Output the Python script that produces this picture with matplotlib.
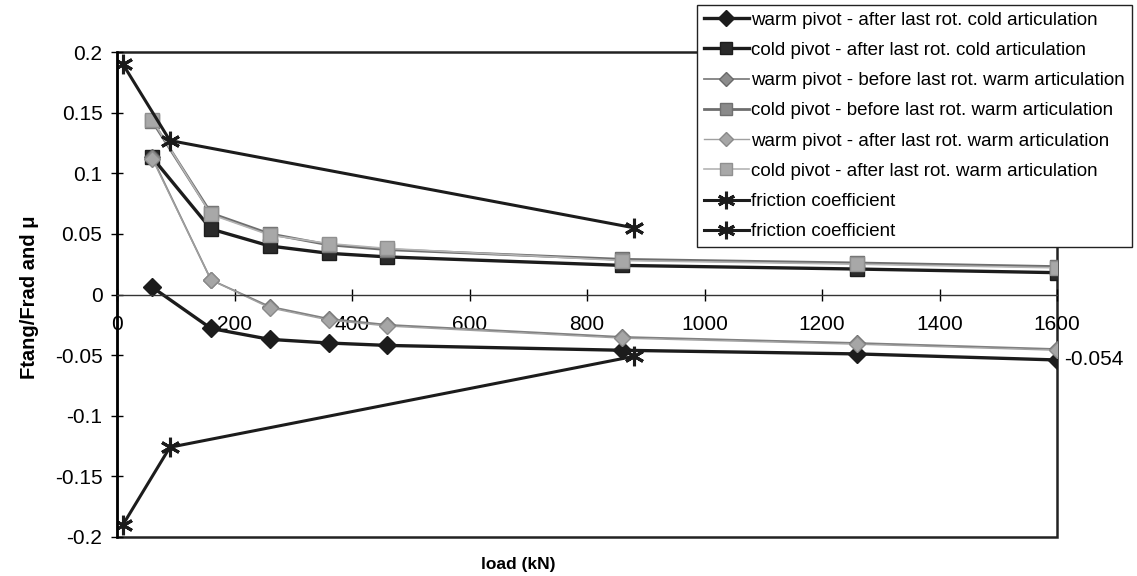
import numpy as np
import matplotlib.pyplot as plt
from matplotlib.patches import Rectangle

plt.rcParams['font.family'] = ['Liberation Sans', 'DejaVu Sans']

# load (kN)
load = [60, 160, 260, 360, 460, 860, 1260, 1600]
load_mu = [10, 90, 880]

warm_after_cold = [0.006, -0.028, -0.037, -0.040, -0.042, -0.046, -0.049, -0.054]
cold_after_cold = [0.113, 0.054, 0.040, 0.034, 0.031, 0.024, 0.021, 0.018]
warm_before_warm = [0.113, 0.012, -0.010, -0.020, -0.025, -0.035, -0.040, -0.045]
cold_before_warm = [0.143, 0.067, 0.050, 0.041, 0.037, 0.029, 0.026, 0.023]
warm_after_warm = [0.112, 0.012, -0.011, -0.021, -0.026, -0.036, -0.041, -0.046]
cold_after_warm = [0.144, 0.066, 0.049, 0.042, 0.038, 0.028, 0.025, 0.022]
mu_pos = [0.19, 0.127, 0.055]
mu_neg = [-0.19, -0.126, -0.051]

labels = [
    "warm pivot - after last rot. cold articulation",
    "cold pivot - after last rot. cold articulation",
    "warm pivot - before last rot. warm articulation",
    "cold pivot - before last rot. warm articulation",
    "warm pivot - after last rot. warm articulation",
    "cold pivot - after last rot. warm articulation",
    "friction coefficient",
    "friction coefficient",
]

fig = plt.figure(figsize=(11.37, 5.76), dpi=100)
ax = fig.add_axes([117 / 1137, 1 - 537 / 576, (1057 - 117) / 1137, (537 - 52) / 576])

blk = '#1c1c1c'
star = (6, 2, 0)
h = []
h += ax.plot(load, warm_after_cold, color=blk, lw=2.4, marker='D', ms=9, mfc=blk, mec=blk)
h += ax.plot(load, cold_after_cold, color=blk, lw=2.4, marker='s', ms=10, mfc='#2a2a2a', mec=blk)
h += ax.plot(load, warm_before_warm, color='#808080', lw=1.3, marker='D', ms=8, mfc='#8c8c8c', mec='#6a6a6a')
h += ax.plot(load, cold_before_warm, color='#6e6e6e', lw=2.0, marker='s', ms=10, mfc='#8a8a8a', mec='#707070')
h += ax.plot(load, warm_after_warm, color='#a0a0a0', lw=1.0, marker='D', ms=8, mfc='#a6a6a6', mec='#8a8a8a')
h += ax.plot(load, cold_after_warm, color='#b4b4b4', lw=1.2, marker='s', ms=10, mfc='#a8a8a8', mec='#909090')
h += ax.plot(load_mu, mu_pos, color=blk, lw=2.2, marker=star, ms=14, mew=2.2, mec=blk)
h += ax.plot(load_mu, mu_neg, color=blk, lw=2.2, marker=star, ms=14, mew=2.2, mec=blk)

ax.text(1612, warm_after_cold[-1], "-0.054", fontsize=15, va='center', ha='left')

ax.set_xlim(0, 1600)
ax.set_ylim(-0.2, 0.2)
ax.set_xticks(np.arange(0, 1601, 200))
ax.set_yticks([-0.2, -0.15, -0.1, -0.05, 0, 0.05, 0.1, 0.15, 0.2])
ax.set_yticklabels(['-0.2', '-0.15', '-0.1', '-0.05', '0', '0.05', '0.1', '0.15', '0.2'])

ax.spines['bottom'].set_position(('data', 0))
ax.spines['bottom'].set_linewidth(1.0)
ax.spines['bottom'].set_color('#333333')
ax.spines['left'].set_linewidth(1.8)
ax.spines['top'].set_visible(False)
ax.spines['right'].set_visible(False)
ax.add_patch(Rectangle((0, 0), 1, 1, transform=ax.transAxes, fill=False,
                       lw=1.8, ec='#222222', clip_on=False, zorder=0.5))

ax.tick_params(axis='x', direction='inout', length=9, width=1, pad=10, labelsize=15)
ax.tick_params(axis='y', direction='inout', length=9, width=1, pad=6, labelsize=15)

fig.text(30 / 1137, 1 - 297 / 576, "Ftang/Frad and \u03bc", rotation=90, ha='center',
         va='center', fontsize=14.5, fontweight='bold')
fig.text(518 / 1137, 1 - 565 / 576, "load (kN)", ha='center', va='center',
         fontsize=12.5, fontweight='bold')

leg = fig.legend(h, labels, loc='upper left', bbox_to_anchor=(697 / 1137, 1 - 5 / 576),
                 fontsize=13.5, handlelength=2.4, handletextpad=0.15, labelspacing=0.7,
                 borderpad=0.35, borderaxespad=0, fancybox=False, framealpha=1,
                 edgecolor='#222222', markerscale=0.9)
leg.get_frame().set_linewidth(1.0)

fig.savefig('out.png', dpi=100, facecolor='white')
